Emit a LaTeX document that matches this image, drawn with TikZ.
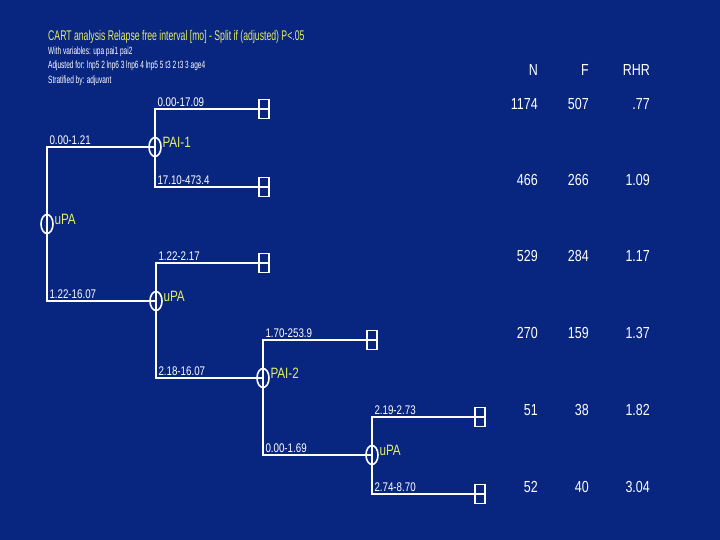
\documentclass[tikz,border=0pt]{standalone}
\usepackage{fontspec}
\setmainfont{Liberation Sans}
\newfontfamily\cartfont[FakeStretch=0.78]{Liberation Sans}
\newfontfamily\headfont[FakeStretch=0.62]{Liberation Sans}
\usetikzlibrary{shapes.geometric}
\definecolor{slideblue}{RGB}{8,38,128}
\definecolor{labyellow}{RGB}{228,238,96}
\tikzset{
  branch/.style={draw=white, line width=2pt},
  splitnode/.style={ellipse, draw=white, line width=1.6pt, minimum width=12pt,
    minimum height=19pt, inner sep=0pt},
  leafbox/.style={rectangle, draw=white, line width=1.6pt, minimum width=10pt,
    minimum height=19pt, inner sep=0pt},
  nodelab/.style={text=labyellow, font=\cartfont\fontsize{15}{15}\selectfont,
    inner sep=0.5pt, yshift=5pt},
  cutlab/.style={text=white, font=\cartfont\fontsize{12.5}{12.5}\selectfont,
    anchor=south west, inner sep=1.5pt, pos=0.5},
  tabcell/.style={text=white, font=\cartfont\fontsize{16}{16}\selectfont,
    anchor=east, inner sep=0pt},
  headline/.style={anchor=west, inner sep=0pt, font=\headfont\fontsize{10.5}{10.5}\selectfont, text=white},
}
\begin{document}
\begin{tikzpicture}[x=1pt, y=-1pt]
\fill[slideblue] (0,0) rectangle (720,540);
\useasboundingbox (0,0) rectangle (720,540);
% heading
\node[headline, text=labyellow, font=\headfont\fontsize{14}{14}\selectfont] (title) at (48,37)
  {CART analysis Relapse free interval [mo] - Split if (adjusted) P<.05};
\node[headline] (vars) at (48,52) {With variables: upa pai1 pai2};
\node[headline] (adj) at (48,66) {Adjusted for: lnp5 2 lnp6 3 lnp6 4 lnp5 5 t3 2 t3 3 age4};
\node[headline] (strat) at (48,81) {Stratified by: adjuvant};
% split nodes
\node[splitnode, label={[nodelab]0:uPA}] (root) at (47,224) {};
\node[splitnode, label={[nodelab]0:PAI-1}] (pai1) at (155,147) {};
\node[splitnode, label={[nodelab]0:uPA}] (upa2) at (156,301) {};
\node[splitnode, label={[nodelab]0:PAI-2}] (pai2) at (263,378) {};
\node[splitnode, label={[nodelab]0:uPA}] (upa3) at (372,455) {};
% terminal boxes
\node[leafbox] (leafA) at (264,109) {};
\node[leafbox] (leafB) at (264,187) {};
\node[leafbox] (leafC) at (264,263) {};
\node[leafbox] (leafD) at (372,340) {};
\node[leafbox] (leafE) at (480,417) {};
\node[leafbox] (leafF) at (480,494) {};
% branches
\draw[branch] (root.center) |- node[cutlab]{0.00-1.21} (pai1.center);
\draw[branch] (root.center) |- node[cutlab]{1.22-16.07} (upa2.center);
\draw[branch] (pai1.center) |- node[cutlab]{0.00-17.09} (leafA.east);
\draw[branch] (pai1.center) |- node[cutlab]{17.10-473.4} (leafB.east);
\draw[branch] (upa2.center) |- node[cutlab]{1.22-2.17} (leafC.east);
\draw[branch] (upa2.center) |- node[cutlab]{2.18-16.07} (pai2.center);
\draw[branch] (pai2.center) |- node[cutlab]{1.70-253.9} (leafD.east);
\draw[branch] (pai2.center) |- node[cutlab]{0.00-1.69} (upa3.center);
\draw[branch] (upa3.center) |- node[cutlab]{2.19-2.73} (leafE.east);
\draw[branch] (upa3.center) |- node[cutlab]{2.74-8.70} (leafF.east);
% table
\node[tabcell] (hN) at (538,70) {N};
\node[tabcell] (hF) at (589,70) {F};
\node[tabcell] (hR) at (650,70) {RHR};
\foreach \y/\n/\f/\r in {104/1174/507/.77, 180/466/266/1.09, 256/529/284/1.17,
    333/270/159/1.37, 410/51/38/1.82, 487/52/40/3.04} {
  \node[tabcell] (n-\y) at (538,\y) {\n};
  \node[tabcell] (f-\y) at (589,\y) {\f};
  \node[tabcell] (r-\y) at (650,\y) {\r};
}
\end{tikzpicture}
\end{document}
